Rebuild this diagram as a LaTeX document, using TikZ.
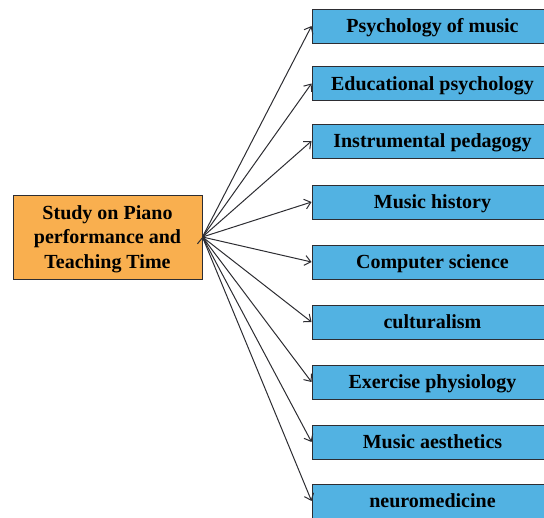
\documentclass[tikz,border=0pt]{standalone}
\usepackage{fontspec}
\setmainfont{Liberation Serif}
\usepackage{tikz}
\usetikzlibrary{arrows.meta,positioning}

\definecolor{rootfill}{RGB}{249,175,79}
\definecolor{leaffill}{RGB}{82,178,226}
\definecolor{linegray}{RGB}{45,45,50}

\begin{document}
\begin{tikzpicture}[x=1pt,y=1pt,>={Straight Barb[length=6pt,width=10pt]},
  root node/.style={rectangle,fill=rootfill,draw=linegray,line width=0.9pt,
    minimum width=189pt,minimum height=84pt,inner sep=0pt,align=center,
    text depth=0pt,font=\fontsize{20}{24.5}\selectfont\bfseries},
  leaf node/.style={rectangle,fill=leaffill,draw=linegray,line width=0.9pt,
    minimum width=241pt,minimum height=34pt,inner sep=0pt,
    text height=13.5pt,text depth=0pt,font=\fontsize{20}{24}\selectfont\bfseries},
  link/.style={draw=linegray,line width=1pt}]

\useasboundingbox (0,0) rectangle (544,-518);
\clip (0,0) rectangle (544,-518);

\node[root node] (study) at (107.5,-237) {Study on Piano\\performance and\\Teaching Time};

% fields of study on the right
\node[leaf node] (psymusic) at (432.5,-26) {Psychology of music};
\node[leaf node] (edupsy) at (432.5,-83.5) {Educational psychology};
\node[leaf node] (instped) at (432.5,-141) {Instrumental pedagogy};
\node[leaf node] (history) at (432.5,-202) {Music history};
\node[leaf node] (compsci) at (432.5,-262) {Computer science};
\node[leaf node] (culture) at (432.5,-322) {culturalism};
\node[leaf node] (exphys) at (432.5,-382) {Exercise physiology};
\node[leaf node] (aesth) at (432.5,-442) {Music aesthetics};
\node[leaf node] (neuro) at (432.5,-501) {neuromedicine};

\path[->,link]
(study.east) edge (psymusic.west)
(study.east) edge (edupsy.west)
(study.east) edge (instped.west)
(study.east) edge (history.west)
(study.east) edge (compsci.west)
(study.east) edge (culture.west)
(study.east) edge (exphys.west)
(study.east) edge (aesth.west)
(study.east) edge (neuro.west);
\end{tikzpicture}
\end{document}
